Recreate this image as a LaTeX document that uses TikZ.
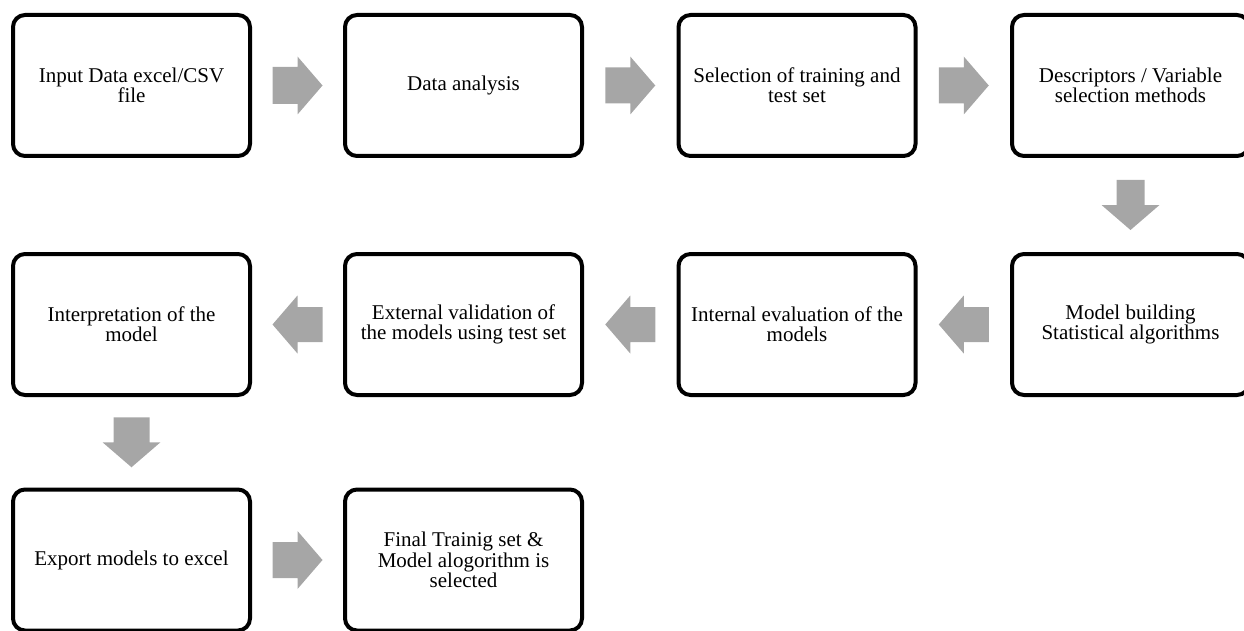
\documentclass[tikz,border=0pt]{standalone}
\usepackage{fontspec}
\setmainfont{Liberation Serif}
\usetikzlibrary{calc}
\definecolor{arrowgray}{RGB}{166,166,166}
\tikzset{
  stepbox/.style={draw=black, line width=4pt, rounded corners=12pt, fill=white,
    minimum width=237pt, minimum height=141pt, inner sep=0pt, align=center,
    font=\fontsize{21}{20.3}\selectfont},
  blockfill/.style={fill=arrowgray, draw=none}
}
% #1 from node, #2 to node, #3 direction angle, #4 shaft half width
\newcommand{\blockarrow}[4]{%
  \path ($(#1)!0.5!(#2)$) coordinate (#1-#2-mid);
  \fill[blockfill, shift={(#1-#2-mid)}, rotate=#3]
    (-25,-#4) -- (0,-#4) -- (0,-29) -- (25,0) -- (0,29) -- (0,#4) -- (-25,#4) -- cycle;
}
\begin{document}
\begin{tikzpicture}[x=1pt,y=1pt]
\useasboundingbox (0,0) rectangle (1244,-631);
\clip (0,0) rectangle (1244,-631);
% row 1
\node[stepbox] (b1) at (131.5,-85.5) {Input Data excel/CSV\\file};
\node[stepbox] (b2) at (463.5,-85.5) {Data analysis};
\node[stepbox] (b3) at (797,-85.5) {Selection of training and\\test set};
\node[stepbox] (b4) at (1130.5,-85.5) {Descriptors / Variable\\selection methods};
% row 2
\node[stepbox] (b5) at (1130.5,-324.5) {Model building\\Statistical algorithms};
\node[stepbox] (b6) at (797,-324.5) {Internal evaluation of the\\models};
\node[stepbox] (b7) at (463.5,-324.5) {External validation of\\the models using test set};
\node[stepbox] (b8) at (131.5,-324.5) {Interpretation of the\\model};
% row 3
\node[stepbox] (b9) at (131.5,-560) {Export models to excel};
\node[stepbox] (b10) at (463.5,-560) {Final Trainig set \&\\Model alogorithm is\\selected};
% arrows
\blockarrow{b1}{b2}{0}{18.5}
\blockarrow{b2}{b3}{0}{18}
\blockarrow{b3}{b4}{0}{18}
\blockarrow{b4}{b5}{-90}{14}
\blockarrow{b5}{b6}{180}{17.5}
\blockarrow{b6}{b7}{180}{17.5}
\blockarrow{b7}{b8}{180}{17.5}
\blockarrow{b8}{b9}{-90}{18}
\blockarrow{b9}{b10}{0}{18}
\end{tikzpicture}
\end{document}
